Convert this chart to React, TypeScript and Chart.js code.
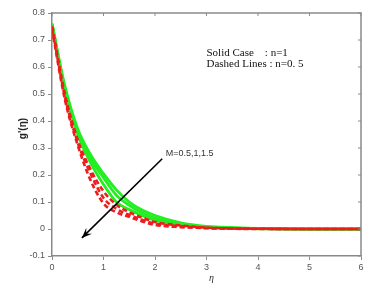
import React, { useEffect, useRef } from "react";
import { Chart, registerables } from "chart.js";

Chart.register(...registerables);

// η grid
const ETA = [0, 0.25, 0.5, 0.75, 1, 1.25, 1.5, 1.75, 2, 2.5, 3, 3.5, 4, 5, 6];

// Solid lines (n = 1), M = 0.5, 1, 1.5
const solidM05 = [0.76, 0.53, 0.37, 0.275, 0.205, 0.145, 0.1, 0.07, 0.05, 0.023, 0.01, 0.005, 0.002, 0.0, 0.0];
const solidM10 = [0.76, 0.52, 0.36, 0.26, 0.19, 0.125, 0.088, 0.06, 0.04, 0.018, 0.008, 0.004, 0.002, 0.0, 0.0];
const solidM15 = [0.76, 0.51, 0.35, 0.245, 0.165, 0.1, 0.072, 0.05, 0.032, 0.015, 0.007, 0.003, 0.001, 0.0, 0.0];

// Dashed lines (n = 0.5), M = 0.5, 1, 1.5
const dashedM05 = [0.75, 0.5, 0.33, 0.22, 0.14, 0.09, 0.062, 0.042, 0.026, 0.013, 0.005, 0.002, 0.001, 0.0, 0.0];
const dashedM10 = [0.75, 0.49, 0.32, 0.205, 0.115, 0.075, 0.052, 0.034, 0.02, 0.01, 0.004, 0.002, 0.001, 0.0, 0.0];
const dashedM15 = [0.74, 0.48, 0.31, 0.18, 0.095, 0.062, 0.045, 0.028, 0.015, 0.007, 0.003, 0.001, 0.0, 0.0, 0.0];

const X_TICKS = [0, 1, 2, 3, 4, 5, 6];
const Y_MIN = -0.1;
const Y_MAX = 0.8;

const LEGEND_LINES = ["Solid Case    : n=1", "Dashed Lines : n=0. 5"];
const ARROW_LABEL = "M=0.5,1,1.5";
const ARROW_FROM = { x: 2.14, y: 0.26 };
const ARROW_TO = { x: 0.58, y: -0.033 };
const Y_TITLE = "g'(\u03B7)";
const X_TITLE = "\u03B7";

const GREEN = "#22ee22";
const RED = "#ee1c1c";
const AXIS = "#8a8a8a";

const toPts = (ys: number[]) => ETA.map((x, i) => ({ x, y: ys[i] }));

const decorPlugin = {
  id: "decor",
  afterDraw(chart: any) {
    const { ctx, chartArea, scales } = chart;
    const xs = scales.x;
    const ys = scales.y;
    ctx.save();
    // top & right frame
    ctx.strokeStyle = AXIS;
    ctx.lineWidth = 1.5;
    ctx.beginPath();
    ctx.moveTo(chartArea.left, chartArea.top);
    ctx.lineTo(chartArea.right, chartArea.top);
    ctx.lineTo(chartArea.right, chartArea.bottom);
    ctx.stroke();
    // inward ticks on top and right
    ctx.lineWidth = 1;
    ctx.beginPath();
    X_TICKS.forEach((v) => {
      const px = xs.getPixelForValue(v);
      ctx.moveTo(px, chartArea.top);
      ctx.lineTo(px, chartArea.top + 3);
    });
    for (let k = 0; k <= 9; k++) {
      const v = Y_MIN + k * 0.1;
      const py = ys.getPixelForValue(v);
      ctx.moveTo(chartArea.right, py);
      ctx.lineTo(chartArea.right - 3, py);
    }
    ctx.stroke();

    // legend-like text
    ctx.fillStyle = "#111";
    ctx.font = "11px 'Liberation Serif'";
    ctx.textBaseline = "middle";
    ctx.textAlign = "left";
    const lx = xs.getPixelForValue(3.0);
    ctx.fillText(LEGEND_LINES[0], lx, ys.getPixelForValue(0.652));
    ctx.fillText(LEGEND_LINES[1], lx, ys.getPixelForValue(0.612));

    // arrow
    const x1 = xs.getPixelForValue(ARROW_FROM.x);
    const y1 = ys.getPixelForValue(ARROW_FROM.y);
    const x2 = xs.getPixelForValue(ARROW_TO.x);
    const y2 = ys.getPixelForValue(ARROW_TO.y);
    ctx.strokeStyle = "#000";
    ctx.lineWidth = 1.6;
    ctx.beginPath();
    ctx.moveTo(x1, y1);
    ctx.lineTo(x2, y2);
    ctx.stroke();
    const ang = Math.atan2(y2 - y1, x2 - x1);
    const L = 11;
    const W = 0.38;
    ctx.fillStyle = "#000";
    ctx.beginPath();
    ctx.moveTo(x2, y2);
    ctx.lineTo(x2 - L * Math.cos(ang - W), y2 - L * Math.sin(ang - W));
    ctx.lineTo(x2 - 0.55 * L * Math.cos(ang), y2 - 0.55 * L * Math.sin(ang));
    ctx.lineTo(x2 - L * Math.cos(ang + W), y2 - L * Math.sin(ang + W));
    ctx.closePath();
    ctx.fill();

    // arrow label
    ctx.fillStyle = "#333";
    ctx.font = "9px 'Liberation Sans'";
    ctx.fillText(ARROW_LABEL, xs.getPixelForValue(2.21), ys.getPixelForValue(0.281));

    // axis titles
    ctx.fillStyle = "#222";
    ctx.font = "bold 10px 'Liberation Sans'";
    ctx.textAlign = "center";
    ctx.save();
    ctx.translate(23, (chartArea.top + chartArea.bottom) / 2 - 6);
    ctx.rotate(-Math.PI / 2);
    ctx.fillText(Y_TITLE, 0, 0);
    ctx.restore();
    ctx.fillStyle = "#333";
    ctx.font = "italic 10px 'Liberation Serif'";
    ctx.fillText(X_TITLE, (chartArea.left + chartArea.right) / 2 + 5, 278);
    ctx.restore();
  },
};

export default function App() {
  const ref = useRef<HTMLCanvasElement | null>(null);

  useEffect(() => {
    if (!ref.current) return;
    const solid = (data: number[]) => ({
      data: toPts(data),
      borderColor: GREEN,
      borderWidth: 2.8,
      pointRadius: 0,
      fill: false,
      cubicInterpolationMode: "monotone" as const,
    });
    const dashed = (data: number[]) => ({
      data: toPts(data),
      borderColor: RED,
      borderWidth: 2.6,
      borderDash: [5, 3],
      pointRadius: 0,
      fill: false,
      cubicInterpolationMode: "monotone" as const,
    });
    const chart = new Chart(ref.current, {
      type: "line",
      data: {
        datasets: [
          dashed(dashedM05),
          dashed(dashedM10),
          dashed(dashedM15),
          solid(solidM05),
          solid(solidM10),
          solid(solidM15),
        ],
      },
      options: {
        responsive: false,
        animation: false,
        devicePixelRatio: 1,
        layout: { padding: { top: 13, right: 10, left: 0, bottom: 0 } },
        plugins: { legend: { display: false }, tooltip: { enabled: false } },
        scales: {
          x: {
            type: "linear",
            min: 0,
            max: 6,
            afterFit: (s: any) => {
              s.height = 32;
            },
            afterBuildTicks: (s: any) => {
              s.ticks = X_TICKS.map((v) => ({ value: v }));
            },
            ticks: {
              color: "#555",
              font: { family: "'Liberation Sans'", size: 9 },
              padding: 2,
              maxRotation: 0,
            },
            grid: { drawOnChartArea: false, drawTicks: true, tickLength: 4, color: AXIS },
            border: { display: true, color: AXIS, width: 1.5 },
          },
          y: {
            type: "linear",
            min: Y_MIN,
            max: Y_MAX,
            afterFit: (s: any) => {
              s.width = 52;
            },
            ticks: {
              stepSize: 0.1,
              color: "#555",
              font: { family: "'Liberation Sans'", size: 9 },
              padding: 3,
              callback: (v: any) => String(Number(Number(v).toFixed(1))),
            },
            grid: { drawOnChartArea: false, drawTicks: true, tickLength: 4, color: AXIS },
            border: { display: true, color: AXIS, width: 1.5 },
          },
        },
      },
      plugins: [decorPlugin],
    });
    return () => chart.destroy();
  }, []);

  return (
    <div style={{ position: "fixed", left: 0, top: 0, width: 371, height: 288, background: "#fff" }}>
      <canvas ref={ref} width={371} height={288} style={{ width: 371, height: 288 }} />
    </div>
  );
}
